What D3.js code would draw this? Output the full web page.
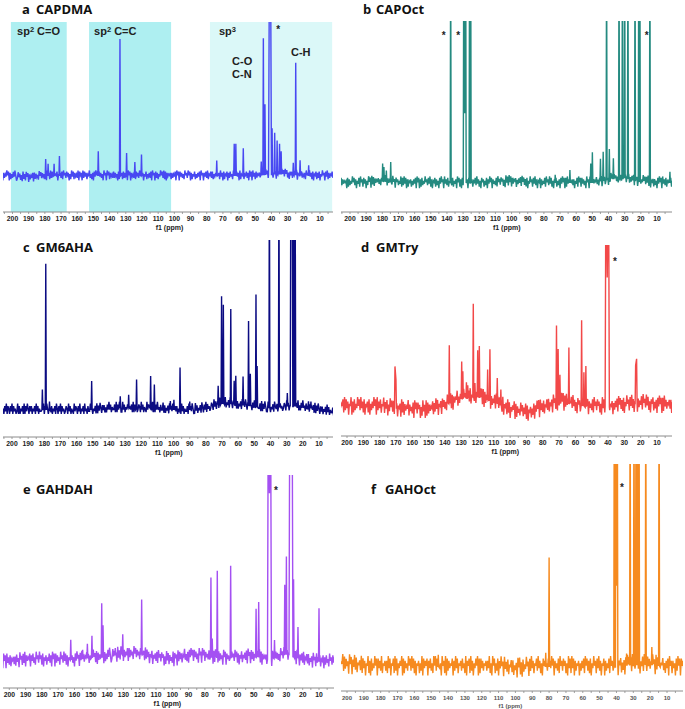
<!DOCTYPE html>
<html>
<head>
<meta charset="utf-8">
<script src="https://cdn.jsdelivr.net/npm/d3@7"></script>
<style>
body { margin: 0; background: #fff; }
</style>
</head>
<body>
<svg id="fig" width="685" height="709"></svg>
<script>
"use strict";

// peaks: [ppm, height in % of the visible range, half width in ppm (optional)]
const peaksA = [[179.5, 11], [178, 8], [174.3, 8], [171, 13],
	[147, 16], [133.6, 89], [129.5, 15], [124.4, 9], [120.3, 14],
	[73.8, 10], [63, 21], [62, 21], [57.4, 18],
	[46.3, 9], [45, 89], [44, 46], [41.3, 130, 0.5], [40.5, 130, 0.5], [39.6, 30], [38, 27], [36.5, 22], [35, 20], [34, 15],
	[26.5, 8], [25, 73], [22.3, 10], [17, 7]];
const peaksB = [[179.8, 11], [179, 9], [177.5, 7], [174.8, 12.5],
	[137.7, 150], [129.6, 150], [129, 43], [128.4, 150], [126, 150], [125.3, 150],
	[73, 5], [63.9, 8],
	[51, 12], [50, 19], [45, 14], [43.3, 18], [41.2, 150], [39.5, 19], [37, 13],
	[33.5, 150], [31.4, 150], [30, 150], [28, 150], [23.6, 150], [21.3, 150], [20.6, 150], [14.4, 150], [2, 7]];
const peaksC = [[181.2, 12], [179.1, 86], [176.8, 5],
	[150.7, 17], [133, 7], [127.8, 8], [122.9, 17], [114.2, 19], [111.9, 14], [102, 5], [99.8, 6], [96, 25], [90, 5],
	[72.4, 11], [70.3, 63], [69.2, 58], [64.6, 56], [62.5, 14], [61.5, 17], [57, 17],
	[53.6, 50], [52.5, 19], [49, 66], [48.3, 24],
	[40.7, 150], [34.8, 150], [29.6, 8], [27.4, 150, 0.4], [26.6, 150, 0.4], [25.6, 150, 0.4], [24.8, 150, 0.4], [15, 4]];
const peaksD = [[170.6, 26], [170, 18],
	[137.3, 36], [129.7, 23], [129, 17], [126.8, 10], [126, 8],
	[122.6, 58], [121.6, 9], [119.9, 29], [118.9, 32], [113.8, 19], [112.4, 32], [107.9, 16], [105.7, 10],
	[71.6, 48], [70.6, 33], [69.5, 17], [64, 35], [56.2, 53], [54.8, 21], [53.6, 25],
	[41.3, 150, 0.5], [40.5, 80], [39.7, 150, 0.5],
	[23.1, 24], [22.5, 28]];
const peaksE = [[162.3, 11], [155, 5], [152.1, 8], [149.3, 12], [143.3, 29], [142.5, 17], [135, 4], [130.4, 11], [118.8, 30],
	[76.3, 43], [75.5, 10], [72.4, 47], [64.2, 50],
	[48.6, 26], [47, 30],
	[41.1, 150, 0.5], [40.4, 90], [39.7, 150, 0.5], [37.3, 10],
	[31, 38], [30, 53], [27.9, 150, 0.5], [27.2, 130], [26.5, 150, 0.5], [25.6, 42], [22.9, 17], [10, 29]];
const peaksF = [[145.8, 6], [82, 7], [80, 54],
	[41.3, 150], [40.3, 150], [39.9, 40], [39.5, 150], [34, 6], [31.9, 150],
	[29.6, 150], [28.4, 150], [27.4, 150], [26.6, 150], [22.6, 150], [19, 9], [14.7, 150]];

// baseline noise, one digit per 0.5 ppm from 207 ppm downwards
const noiseA = "2817364958 1726384951 3847261937 2958173648 1837462958 3746281957 2938471658 1647382957 3857162948 2746391857 1938472659 3627184958 2847361957 1958274638 3746182957 2837461958 1746392857 3958271648 2647381957 1837264958 3928174657 2736481958 1847362957 3958172648 2637481957 1748392658 3826471957 2947182658 1738462957 3847192658 2658371948 1947283657 3728461958 2839172657 1647382958 3958261747 2748391658 1836472957 3947281658 2738164957 1849273658 3726481957";
const noiseB = "2918374656 1827364958 3716482957 2847163958 1938274657 3627481958 2746183957 1857364928 3948172657 2637481958 1728364957 3849271658 2736184957 1947382658 3826471958 2718364957 1839472658 3947261857 2638174958 1746382957 3857261948 2948173657 1637482958 3728164957 2849371658 1736482957 3948261758 2637184958 1829473657 3716482958 2847361957 1938274658 3627481957 2746183958 1857362947 3948172658 2637481957 1728364958 3849271657 2736184958 1947382657 3826471958";
const noiseC = "4635364736 5364736453 4736354637 3647536463 5463746354 4637364753 3746354637 5364736453 4653746354 3746536473 5463745364 4736354637 3647536463 5364746354 4637364753 3746354637 5463736453 4653746354 3746536473 5364745364 4736354637 3647536463 5463746354 4637364753 3746354637 5364736453 4653746354 3746536473 5463745364 4736354637 3647536463 5364746354 4637364753 3746354637 5463736453 4653746354 3746536473 5364745364 4736354637 3647536463 5463746354 4637364753";
const noiseD = "1829374658 2938471659 1728364958 3947281657 2816374958 1937482659 2748163958 3829471657 1938274659 2746381958 3857162947 1928374658 2739481657 1847362958 3928174659 2637481957 1748392658 3827461959 2918374657 1736482958 3847291657 2938164759 1827463958 3749281657 2638174959 1947382658 3826471957 2718364959 1839472658 3947261857 2638174958 1746382957 3857261948 2948173657 1637482958 3728164957 2849371658 1736482957 3948261758 2637184958 1829473657 3716482958";
const noiseE = "2837461958 1947382657 3728461957 2839174658 1748362957 3957281647 2648371958 1837462957 3948271658 2736184957 1849273658 3726481957 2817364958 1726384951 3847261937 2958173648 1837462958 3746281957 2938471658 1647382957 3857162948 2746391857 1938472659 3627184958 2847361957 1958274638 3746182957 2837461958 1746392857 3958271648 2647381957 1837264958 3928174657 2736481958 1847362957 3958172648 2637481957 1748392658 3826471957 2947182658 1738462957 3847192658";
const noiseF = "1928374659 2837461958 1749382657 3928471659 2718364958 1847392657 3729481658 2938164759 1827463958 3948271657 2639184758 1748362959 3827461957 2918374658 1739482657 3846291758 2937164859 1828473657 3749261958 2638174957 1947382658 3826471959 2718364957 1839472658 3947261857 2638174958 1746382957 3857261948 2948173657 1637482958 3728164957 2849371658 1736482957 3948261758 2637184958 1829473657 3716482958 2847361957 1938274658 3627481957 2746183958 1857362947";

// baseline drift in %, at 200, 190, ... 0 ppm
const driftA = [0, -1, 0, 0, 0, 0, 0, 0, 0, 0, 0, 0, 0, 0, 0, 0, 1, 1, 0, 0, 0];
const driftB = [0, 0, 1, 0, 0, 0, 0, 0, 0, 0, 1, 0, 0, 0, 0, 0, 2, 3, 1, 0, 0];
const driftC = [0, 0, 0, 0, 0, 0, 1, 1, 1, 1, 0, 0, 1, 4, 3, 2, 1, 2, 2, 0, -1];
const driftD = [0, 0, 0, -1, -2, -2, 1, 5, 6, 3, -2, -4, -1, 3, 1, 0, 0, 1, 2, 1, 1];
const driftE = [-1, 0, 0, 0, 0, 1, 2, 3, 3, 1, 0, 2, 2, 1, 1, 2, 0, 3, 0, -1, -1];
const driftF = [1, 0, 0, 0, 0, 0, 0, 0, 0, 0, -1, 0, 0, 0, 0, 0, 0, 1, 1, 0, 0];

// solvent / reference markers (ppm)
const starsA = [35.9];
const starsB = [142, 133, 16.3];
const starsD = [35.8];
const starsE = [36.4];
const starsF = [36.7];

const tickValues = d3.range(10, 201, 10);
const minorTickValues = d3.range(5, 206, 5);
const driftPpm = d3.range(200, -1, -10);

const panels = [
	{ letter: "a", title: "CAPDMA", color: "#4848f2", peaks: peaksA, noise: noiseA, drift: driftA, stars: starsA,
		left: 3, right: 333, x200: 12.5, x10: 320, axisY: 212, baseY: 176, topY: 22, amp: 0.8, starY: 33,
		letterX: 22, titleX: 36, titleY: 14 },
	{ letter: "b", title: "CAPOct", color: "#248a80", peaks: peaksB, noise: noiseB, drift: driftB, stars: starsB,
		left: 341, right: 672, x200: 350, x10: 657, axisY: 212, baseY: 183, topY: 21, amp: 0.9, starY: 39,
		letterX: 363, titleX: 376, titleY: 14 },
	{ letter: "c", title: "GM6AHA", color: "#0b0b82", peaks: peaksC, noise: noiseC, drift: driftC, stars: [],
		left: 3, right: 333, x200: 12, x10: 319, axisY: 437, baseY: 410, topY: 240, amp: 1.5, starY: 0,
		letterX: 23, titleX: 36, titleY: 252 },
	{ letter: "d", title: "GMTry", color: "#f24848", peaks: peaksD, noise: noiseD, drift: driftD, stars: starsD,
		left: 341, right: 672, x200: 347, x10: 657, axisY: 436, baseY: 407, topY: 245, amp: 1.35, starY: 265,
		letterX: 361, titleX: 376, titleY: 252 },
	{ letter: "e", title: "GAHDAH", color: "#a450f2", peaks: peaksE, noise: noiseE, drift: driftE, stars: starsE,
		left: 3, right: 334, x200: 9.3, x10: 319, axisY: 688, baseY: 660, topY: 475, amp: 1.0, starY: 494,
		letterX: 23, titleX: 36, titleY: 494 },
	{ letter: "f", title: "GAHOct", color: "#f68a1f", peaks: peaksF, noise: noiseF, drift: driftF, stars: starsF,
		left: 341, right: 683, x200: 347, x10: 667, axisY: 691, baseY: 667, topY: 464, amp: 1.2, starY: 491,
		letterX: 371, titleX: 385, titleY: 494, small: true }
];

const svg = d3.select("#fig");
const defs = svg.append("defs");

function spectrumPoints(p, drift)
{
	let pk = p.peaks.map(function(d) { return { ppm: d[0], h: d[1], w: d[2] || 0.3 }; })
		.sort(function(a, b) { return b.ppm - a.ppm; });

	//group peaks whose feet overlap, so they join at the top
	let groups = [];
	pk.forEach(function(q, i)
	{
		let prev = pk[i - 1];
		if (prev && prev.ppm - prev.w <= q.ppm + q.w) groups[groups.length - 1].push(q);
		else groups.push([q]);
	});

	let pts = [];
	let digits = p.noise.replace(/\s/g, "").split("").map(Number);
	digits.forEach(function(d, i)
	{
		let ppm = 207 - i / 2;
		let inside = groups.some(function(g)
		{
			return ppm <= g[0].ppm + g[0].w && ppm >= g[g.length - 1].ppm - g[g.length - 1].w;
		});
		if (!inside) pts.push([ppm, (d - 4.5) * p.amp + drift(ppm)]);
	});
	for (let g of groups)
	{
		let first = g[0], last = g[g.length - 1];
		pts.push([first.ppm + first.w, drift(first.ppm + first.w)]);
		for (let q of g) pts.push([q.ppm, q.h + drift(q.ppm)]);
		pts.push([last.ppm - last.w, drift(last.ppm - last.w)]);
	}
	return pts.sort(function(a, b) { return b[0] - a[0]; });
}

panels.forEach(function(p, idx)
{
	let x = d3.scaleLinear().domain([200, 10]).range([p.x200, p.x10]);
	let y = d3.scaleLinear().domain([0, 100]).range([p.baseY, p.topY]);
	let drift = d3.scaleLinear().domain(driftPpm).range(p.drift).clamp(true);

	let g = svg.append("g");

	//shaded regions of panel a
	if (p.letter === "a")
	{
		let boxes = [[201, 166.5, "#aeeff1"], [152.7, 102, "#aeeff1"], [78, 2.5, "#dbf8f8"]];
		g.selectAll("rect.box").data(boxes).enter().append("rect")
			.attr("class", "box")
			.attr("x", function(d) { return x(d[0]); })
			.attr("width", function(d) { return x(d[1]) - x(d[0]); })
			.attr("y", p.topY)
			.attr("height", p.axisY - p.topY)
			.attr("fill", function(d) { return d[2]; });
	}

	//clip
	defs.append("clipPath").attr("id", "clip" + idx)
		.append("rect")
		.attr("x", p.left).attr("y", p.topY)
		.attr("width", p.right - p.left).attr("height", p.axisY - p.topY);

	let line = d3.line()
		.x(function(d) { return x(d[0]); })
		.y(function(d) { return y(d[1]); });

	g.append("path")
		.attr("clip-path", "url(#clip" + idx + ")")
		.attr("d", line(spectrumPoints(p, drift)))
		.attr("fill", "none")
		.attr("stroke", p.color)
		.attr("stroke-width", 1.4)
		.attr("stroke-linejoin", "miter");

	//axis
	let axis = g.append("g").attr("transform", "translate(0," + p.axisY + ")");
	axis.append("line")
		.attr("x1", p.left).attr("x2", p.right)
		.attr("stroke", "#8c8c8c").attr("stroke-width", 1);
	axis.selectAll("line.minor")
		.data(minorTickValues.filter(function(v) { return x(v) > p.left && x(v) < p.right; }))
		.enter().append("line")
		.attr("class", "minor")
		.attr("x1", function(d) { return x(d); }).attr("x2", function(d) { return x(d); })
		.attr("y1", 0).attr("y2", 2)
		.attr("stroke", "#8c8c8c").attr("stroke-width", 0.8);
	axis.selectAll("text.tick").data(tickValues).enter().append("text")
		.attr("class", "tick")
		.attr("x", function(d) { return x(d); })
		.attr("y", p.small ? 8.5 : 9)
		.attr("text-anchor", "middle")
		.attr("font-family", "Liberation Sans, Arial, sans-serif")
		.attr("font-weight", "bold")
		.attr("font-size", p.small ? 6 : 6.8)
		.attr("fill", p.small ? "#555" : "#222")
		.text(function(d) { return d; });
	axis.append("text")
		.attr("x", x(103))
		.attr("y", p.small ? 16.5 : 18)
		.attr("text-anchor", "middle")
		.attr("font-family", "Liberation Sans, Arial, sans-serif")
		.attr("font-weight", "bold")
		.attr("font-size", p.small ? 6 : 7)
		.attr("fill", p.small ? "#555" : "#222")
		.text("f1 (ppm)");

	//title
	g.append("text")
		.attr("x", p.letterX).attr("y", p.titleY)
		.attr("font-family", "Open Sans, sans-serif")
		.attr("font-weight", "bold").attr("font-size", 13)
		.attr("fill", "#111")
		.text(p.letter);
	g.append("text")
		.attr("x", p.titleX).attr("y", p.titleY)
		.attr("font-family", "Open Sans, sans-serif")
		.attr("font-weight", "bold").attr("font-size", 13)
		.attr("fill", "#111")
		.text(p.title);

	//stars
	g.selectAll("text.star").data(p.stars).enter().append("text")
		.attr("class", "star")
		.attr("x", function(d) { return x(d); })
		.attr("y", p.starY)
		.attr("text-anchor", "middle")
		.attr("font-family", "Liberation Sans, Arial, sans-serif")
		.attr("font-weight", "bold").attr("font-size", 10)
		.attr("fill", "#222")
		.text("*");

	//region labels of panel a
	if (p.letter === "a")
	{
		let labelFont = function(t)
		{
			return t.attr("font-family", "Liberation Sans, Arial, sans-serif")
				.attr("font-weight", "bold").attr("font-size", 11).attr("fill", "#222");
		};
		let spLabels = [[197.2, "2", " C=O"], [149.6, "2", " C=C"], [72.4, "3", ""]];
		spLabels.forEach(function(d)
		{
			let t = labelFont(g.append("text").attr("x", x(d[0])).attr("y", 35));
			t.append("tspan").text("sp");
			t.append("tspan").attr("font-size", 7.5).attr("dy", -3.5).text(d[1]);
			if (d[2]) t.append("tspan").attr("dy", 3.5).text(d[2]);
		});
		labelFont(g.append("text").attr("x", x(64.3)).attr("y", 65)).text("C-O");
		labelFont(g.append("text").attr("x", x(64.3)).attr("y", 78)).text("C-N");
		labelFont(g.append("text").attr("x", x(27.9)).attr("y", 56)).text("C-H");
	}
});
</script>
</body>
</html>
